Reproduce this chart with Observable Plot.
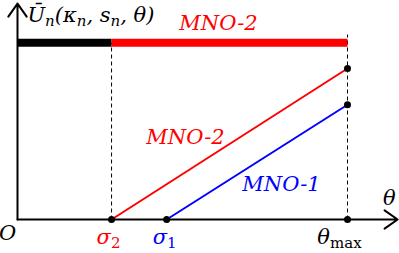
<!DOCTYPE html>
<html>
<head>
<meta charset="utf-8">
<script src="https://cdn.jsdelivr.net/npm/d3@7"></script>
<script src="https://cdn.jsdelivr.net/npm/@observablehq/plot@0.6"></script>
<style>
  html, body { margin: 0; padding: 0; background: #fff; }
  #chart svg { display: block; }
</style>
</head>
<body>
<div id="chart"></div>
<script>
// ---- data (theta scaled so that theta_max = 1; utility scaled so MNO-2 end = 1) ----
const thetaPoints = { sigma2: 0.285, sigma1: 0.452, thetaMax: 1 };
const lineNames = ["MNO-2", "MNO-1"];
const lineStart = [0.285, 0.452];   // theta where each line starts (utility 0)
const lineEndValue = [1.0, 0.76];   // utility at theta_max
const lineColors = ["#ff0000", "#0000ff"];
const barLevel = 1.17;              // level of the thick preference bar
const barSegments = [
  { x1: 0, x2: 0.285, color: "#000000" },
  { x1: 0.285, x2: 1, color: "#ff0000" }
];
const axisXEnd = 1.152;
const axisYEnd = 1.43;
const dashTopMax = 1.225;
const tickLabels = ["σ_{2}", "σ_{1}", "θ_{max}"];
const tickColors = ["#ff0000", "#0000ff", "#000000"];

// ---- derived tables ----
const lines = [];
lineNames.forEach((name, i) => {
  lines.push({ name, theta: lineStart[i], u: 0 });
  lines.push({ name, theta: thetaPoints.thetaMax, u: lineEndValue[i] });
});
const dots = [
  { theta: thetaPoints.sigma2, u: 0 },
  { theta: thetaPoints.sigma1, u: 0 },
  { theta: thetaPoints.thetaMax, u: 0 },
  { theta: thetaPoints.thetaMax, u: lineEndValue[0] },
  { theta: thetaPoints.thetaMax, u: lineEndValue[1] }
];
const tickThetas = [thetaPoints.sigma2, thetaPoints.sigma1, thetaPoints.thetaMax];
const tickOffsets = [-3, -2, -8];
const dashes = [
  { theta: thetaPoints.sigma2, top: barLevel },
  { theta: thetaPoints.thetaMax, top: dashTopMax }
];

const FONT = "DejaVu Serif";
const txt = { fontFamily: FONT, fontStyle: "italic", fontSize: 21 };

const chart = Plot.plot({
  width: 399,
  height: 253,
  marginTop: 0, marginRight: 0, marginBottom: 0, marginLeft: 0,
  x: { domain: [0, 1], range: [17, 347], axis: null },
  y: { domain: [0, 1], range: [219, 68], axis: null },
  style: { background: "#fff", overflow: "visible" },
  marks: [
    // dashed guides
    Plot.link(dashes, { x1: "theta", x2: "theta", y1: 0, y2: "top", stroke: "#000", strokeWidth: 1, strokeDasharray: "4,3" }),
    // thick preference bars
    Plot.link(barSegments, { x1: "x1", x2: "x2", y1: barLevel, y2: barLevel, stroke: "color", strokeWidth: 8, strokeLinecap: "butt" }),
    // axes with arrows
    Plot.arrow([{}], { x1: 0, y1: 0, x2: axisXEnd, y2: 0, stroke: "#000", strokeWidth: 2, headLength: 12, headAngle: 70 }),
    Plot.arrow([{}], { x1: 0, y1: 0, x2: 0, y2: axisYEnd, stroke: "#000", strokeWidth: 2, headLength: 12, headAngle: 70 }),
    // MNO lines
    Plot.line(lines, { x: "theta", y: "u", z: "name", stroke: d => lineColors[lineNames.indexOf(d.name)], strokeWidth: 2 }),
    // points
    Plot.dot(dots, { x: "theta", y: "u", r: 3.5, fill: "#000" }),
    // tick labels
    ...tickLabels.map((label, i) =>
      Plot.text([label], { x: tickThetas[i], y: 0, text: d => d, fill: tickColors[i], dy: 18, dx: tickOffsets[i], textAnchor: "middle", ...txt })
    ),
    // origin + axis labels
    Plot.text(["O"], { x: -0.03, y: 0, text: d => d, dy: 14, fill: "#000", ...txt }),
    Plot.text(["θ"], { x: 1.127, y: 0, text: d => d, dy: -21, fill: "#000", ...txt }),
    Plot.text(["Ū_{n}(κ_{n}, s_{n}, θ)"], { x: 0.03, y: axisYEnd, text: d => d, dy: 12, textAnchor: "start", fill: "#000", ...txt }),
    // series labels
    Plot.text([lineNames[0]], { x: 0.609, y: barLevel, text: d => d, dy: -20, fill: lineColors[0], ...txt }),
    Plot.text([lineNames[0]], { x: 0.509, y: 0.49, text: d => d, dy: -8, fill: lineColors[0], ...txt }),
    Plot.text([lineNames[1]], { x: 0.80, y: 0.179, text: d => d, dy: -8, fill: lineColors[1], ...txt })
  ]
});

// turn "_{...}" markers into subscript tspans
d3.select(chart).selectAll("text").each(function () {
  const s = this.textContent;
  if (!s.includes("_{")) return;
  const parts = s.split(/(_\{[^}]*\})/).filter(p => p);
  this.textContent = "";
  let shifted = false;
  for (const p of parts) {
    const t = document.createElementNS("http://www.w3.org/2000/svg", "tspan");
    if (p.startsWith("_{")) {
      const c = p.slice(2, -1);
      t.textContent = c;
      t.setAttribute("font-size", "15");
      t.setAttribute("dy", "4");
      if (c === "max" || /^[0-9]+$/.test(c)) t.setAttribute("font-style", "normal");
      shifted = true;
    } else {
      t.textContent = p;
      if (shifted) t.setAttribute("dy", "-4");
      shifted = false;
    }
    this.appendChild(t);
  }
});

document.getElementById("chart").appendChild(chart);
</script>
</body>
</html>
